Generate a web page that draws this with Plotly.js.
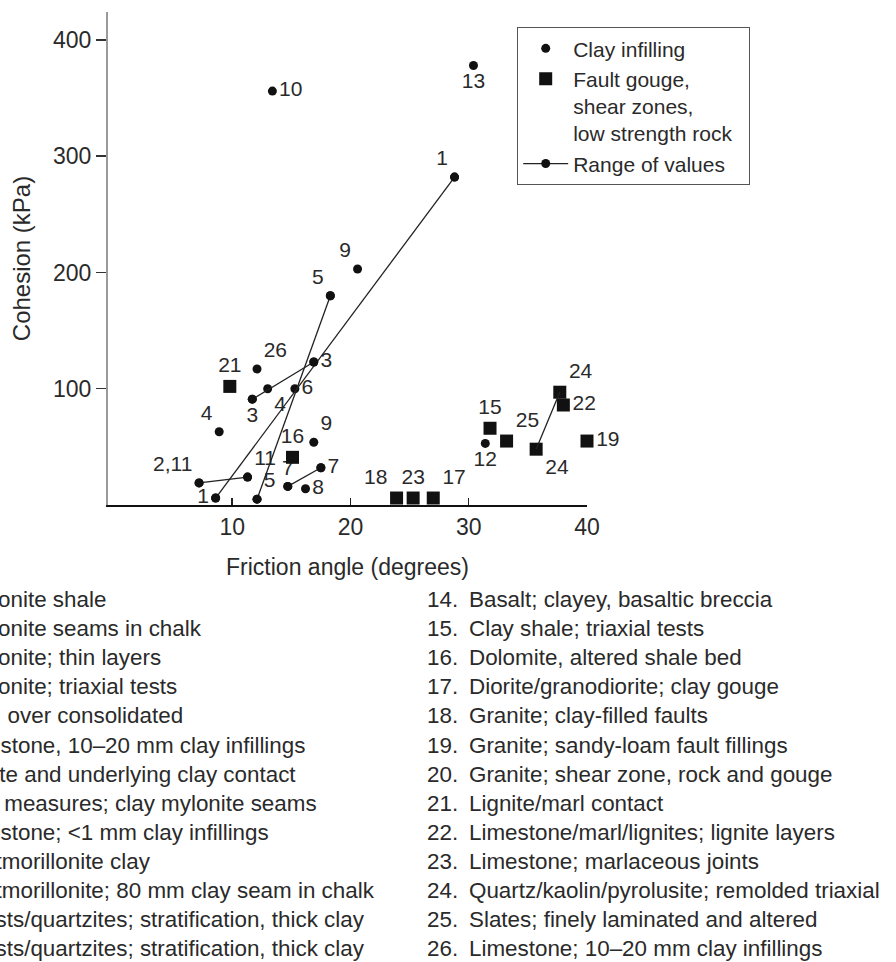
<!DOCTYPE html>
<html><head><meta charset="utf-8">
<script src="https://cdn.plot.ly/plotly-3.0.1.min.js"></script>
<style>html,body{margin:0;padding:0;background:#fff}#chart{width:896px;height:962px}</style>
</head><body><div id="chart"></div>
<script>
// ---- Data ----
const clayLabels   = ['1','1','2,11','11','3','3','4','4','5','5','6','7','7','8','9','9','10','12','13','26'];
const clayAngle    = [8.6, 28.8, 7.2, 11.3, 11.7, 16.9, 8.9, 13.0, 12.1, 18.3, 15.3, 14.7, 17.5, 16.2, 16.9, 20.6, 13.4, 31.4, 30.4, 12.1];
const clayCohesion = [6, 282, 19, 24, 91, 123, 63, 100, 5, 180, 100, 16, 32, 14, 54, 203, 356, 53, 378, 117];

const gougeLabels   = ['14, 20','15','16','17','18','18','19','21','22','23','24','24','25'];
const gougeAngle    = [41.7, 31.8, 15.1, 27.0, 23.9, 44.8, 40.0, 9.8, 38.0, 25.3, 35.7, 37.7, 33.2];
const gougeCohesion = [244, 66, 41, 6, 6, 105, 55, 102, 86, 6, 48, 97, 55];

// ranges of values: pairs of indices into the arrays above
const clayRanges  = [[0,1],[2,3],[4,5],[8,9],[11,12]];
const gougeRanges = [[10,11]];

const yTicks = [100, 200, 300, 400];
const xTicks = [10, 20, 30, 40];

const leftNums  = ['1.','2.','3.','4.','5.','6.','7.','8.','9.','10.','11.','12.','13.'];
const leftNames = ['Bentonite shale','Bentonite seams in chalk','Bentonite; thin layers','Bentonite; triaxial tests',
  'Clay, over consolidated','Limestone, 10–20 mm clay infillings','Lignite and underlying clay contact',
  'Coal measures; clay mylonite seams','Limestone; &lt;1 mm clay infillings','Montmorillonite clay',
  'Montmorillonite; 80 mm clay seam in chalk','Schists/quartzites; stratification, thick clay',
  'Schists/quartzites; stratification, thick clay'];
const rightNums  = ['14.','15.','16.','17.','18.','19.','20.','21.','22.','23.','24.','25.','26.'];
const rightNames = ['Basalt; clayey, basaltic breccia','Clay shale; triaxial tests','Dolomite, altered shale bed',
  'Diorite/granodiorite; clay gouge','Granite; clay-filled faults','Granite; sandy-loam fault fillings',
  'Granite; shear zone, rock and gouge','Lignite/marl contact','Limestone/marl/lignites; lignite layers',
  'Limestone; marlaceous joints','Quartz/kaolin/pyrolusite; remolded triaxial','Slates; finely laminated and altered',
  'Limestone; 10–20 mm clay infillings'];

// ---- Styling ----
const FONT = 'Liberation Sans, Arial, sans-serif';
const TXT = '#2a2a2a';
const FS = 23;
const clayTextPos = ['middle left','top left','top left','top right','bottom center','middle right','top left','bottom right',
  'top right','top left','middle right','top center','middle right','middle right','top right','top left','middle right',
  'bottom center','bottom center','top right'];
const gougeTextPos = ['top right','top center','top center','top right','top left','bottom right','middle right',
  'top center','middle right','top center','bottom right','top right','top right'];

function buildRanges(pairs, xs, ys){
  const x=[], y=[];
  pairs.forEach(([a,b])=>{ x.push(xs[a], xs[b], null); y.push(ys[a], ys[b], null); });
  return {x, y};
}
const rc = buildRanges(clayRanges, clayAngle, clayCohesion);
const rg = buildRanges(gougeRanges, gougeAngle, gougeCohesion);

const traces = [
  { type:'scatter', mode:'markers+text', name:'Clay infilling',
    x: clayAngle, y: clayCohesion, text: clayLabels, textposition: clayTextPos,
    textfont:{family:FONT,size:21,color:TXT},
    marker:{symbol:'circle',size:9,color:'#111'}, cliponaxis:false },
  { type:'scatter', mode:'markers+text', name:'Fault gouge,<br>shear zones,<br>low strength rock\u00a0\u00a0',
    x: gougeAngle, y: gougeCohesion, text: gougeLabels, textposition: gougeTextPos,
    textfont:{family:FONT,size:21,color:TXT},
    marker:{symbol:'square',size:13,color:'#111'}, cliponaxis:false },
  { type:'scatter', mode:'lines+markers', name:'Range of values',
    x: rc.x, y: rc.y, line:{color:'#222',width:1.3},
    marker:{symbol:'circle',size:9,color:'#111'}, cliponaxis:false, connectgaps:false },
  { type:'scatter', mode:'lines', showlegend:false,
    x: rg.x, y: rg.y, line:{color:'#222',width:1.3}, connectgaps:false }
];

const PL = 108, PW = 479, PB = 505, PH = 493;
const px2x = p => (p-PL)/PW;
const py2y = p => (PB-p)/PH;

function col(lines, x, anchor, align){
  return { xref:'paper', yref:'paper', x: px2x(x), y: py2y(585), xanchor: anchor, yanchor:'top',
    align: align, showarrow:false, text: lines.join('<br>'),
    font:{family:FONT,size:22.4,color:TXT} };
}

const layout = {
  width:896, height:962,
  margin:{l:PL, r:896-PL-PW, t:PB-PH, b:962-PB, pad:0},
  paper_bgcolor:'#fff', plot_bgcolor:'#fff',
  font:{family:FONT,size:FS,color:TXT},
  showlegend:true,
  legend:{x:px2x(517), y:py2y(27), xanchor:'left', yanchor:'top', bgcolor:'#fff',
    bordercolor:'#555', borderwidth:1.2, font:{family:FONT,size:21,color:TXT}, valign:'top',
    tracegroupgap:0, itemwidth:45},
  xaxis:{range:[-0.5,40], tickvals:xTicks, ticks:'inside', ticklen:7, tickwidth:1.5, tickcolor:'#222',
    showline:true, linecolor:'#111', linewidth:2, zeroline:false, showgrid:false, automargin:true,
    tickfont:{family:FONT,size:FS,color:TXT},
    title:{text:'Friction angle (degrees)', font:{family:FONT,size:FS,color:TXT}, standoff:20}},
  yaxis:{range:[0,424], tickvals:yTicks, ticks:'outside', ticklen:10, tickwidth:1.5, tickcolor:'#333',
    showline:true, linecolor:'#9a9a9a', linewidth:2, zeroline:false, showgrid:false, automargin:true,
    tickfont:{family:FONT,size:FS,color:TXT},
    title:{text:'Cohesion (kPa)', font:{family:FONT,size:24,color:TXT}, standoff:16}},
  annotations:[
    col(leftNums, -56, 'right', 'right'),
    col(leftNames, -50, 'left', 'left'),
    col(rightNums, 460, 'right', 'right'),
    col(rightNames, 467, 'left', 'left')
  ]
};

Plotly.newPlot('chart', traces, layout, {displayModeBar:false, staticPlot:true});
</script></body></html>
